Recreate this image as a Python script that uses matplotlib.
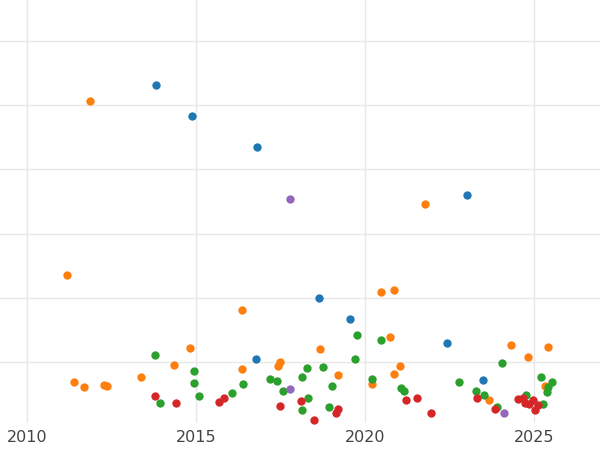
import matplotlib.pyplot as plt

blue_x = [2013.82, 2014.88, 2016.80, 2023.02, 2018.64, 2019.56, 2022.43, 2016.78, 2023.49]
blue_y = [5.31, 4.83, 4.35, 3.60, 2.00, 1.68, 1.30, 1.06, 0.73]

orange_x = [2011.86, 2011.18, 2021.78, 2016.36, 2020.47, 2020.86, 2020.74, 2014.82, 2018.67,
            2014.35, 2017.49, 2017.43, 2016.36, 2021.04, 2019.20, 2020.86, 2013.37, 2011.39,
            2011.69, 2012.28, 2012.37, 2020.21, 2024.32, 2025.41, 2024.82, 2025.33, 2023.67]
orange_y = [5.06, 2.36, 3.46, 1.82, 2.10, 2.13, 1.40, 1.23, 1.21,
            0.96, 1.01, 0.95, 0.90, 0.95, 0.81, 0.82, 0.78, 0.70,
            0.62, 0.65, 0.64, 0.67, 1.27, 1.24, 1.09, 0.64, 0.42]

green_x = [2013.79, 2019.76, 2020.47, 2019.70, 2014.94, 2014.94, 2017.19, 2017.40, 2016.39,
           2018.14, 2018.76, 2018.28, 2020.21, 2017.57, 2016.07, 2015.09, 2013.93, 2018.31,
           2019.02, 2021.07, 2021.15, 2022.78, 2024.05, 2025.21, 2025.53, 2025.41, 2025.38,
           2023.28, 2023.52, 2024.76, 2025.27, 2018.93, 2018.14, 2023.91]
green_y = [1.12, 1.43, 1.35, 1.06, 0.87, 0.68, 0.75, 0.71, 0.67,
           0.78, 0.93, 0.92, 0.75, 0.56, 0.53, 0.48, 0.37, 0.45,
           0.64, 0.61, 0.56, 0.70, 0.99, 0.78, 0.70, 0.62, 0.54,
           0.56, 0.50, 0.50, 0.36, 0.31, 0.26, 0.31]

red_x = [2013.79, 2014.41, 2015.68, 2015.83, 2017.49, 2018.11, 2018.49, 2019.14, 2019.20,
         2021.21, 2021.54, 2021.95, 2023.31, 2023.85, 2024.53, 2024.67, 2024.85, 2024.97,
         2025.03, 2025.12, 2024.73]
red_y = [0.48, 0.37, 0.39, 0.45, 0.33, 0.40, 0.11, 0.22, 0.28,
         0.42, 0.45, 0.22, 0.45, 0.28, 0.43, 0.45, 0.36, 0.42,
         0.26, 0.34, 0.37]

purple_x = [2017.78, 2017.78, 2024.11]
purple_y = [3.54, 0.59, 0.22]

series = [(blue_x, blue_y, '#1f77b4'), (orange_x, orange_y, '#ff7f0e'),
          (green_x, green_y, '#2ca02c'), (red_x, red_y, '#d62728'),
          (purple_x, purple_y, '#9467bd')]

fig = plt.figure(figsize=(6, 4.5), dpi=100)
ax = fig.add_axes([0, 27 / 450, 1, 423 / 450])

for xs, ys, c in series:
    ax.scatter(xs, ys, s=36, color=c, linewidths=0, zorder=3, clip_on=False)

ax.set_xlim(2009.2, 2026.95)
ax.set_ylim(0.06, 6.63)
ax.set_xticks([2010, 2015, 2020, 2025])
ax.set_yticks([1, 2, 3, 4, 5, 6])
ax.tick_params(axis='y', left=False, labelleft=False)
ax.tick_params(axis='x', length=0, labelsize=11.5, labelcolor='#444444', pad=5)
ax.grid(True, color='#e8e8e8', linewidth=1, zorder=0)
for s in ax.spines.values():
    s.set_visible(False)

fig.savefig('out.png', dpi=100)
